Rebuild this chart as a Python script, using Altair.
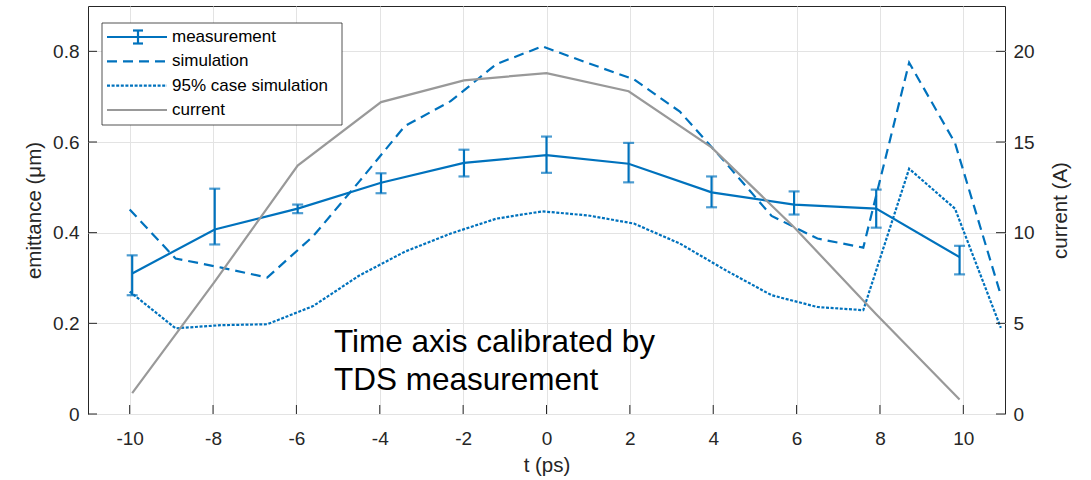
import altair as alt
import pandas as pd

# ---------------- data ----------------
meas_t = [-9.94, -7.96, -5.97, -3.97, -1.98, 0.0, 1.97, 3.96, 5.94, 7.91, 9.91]
meas_y = [0.310, 0.407, 0.453, 0.510, 0.554, 0.571, 0.552, 0.489, 0.462, 0.453, 0.346]
meas_hi = [0.350, 0.497, 0.462, 0.531, 0.583, 0.612, 0.598, 0.524, 0.491, 0.495, 0.371]
meas_lo = [0.262, 0.374, 0.443, 0.487, 0.524, 0.532, 0.511, 0.456, 0.440, 0.411, 0.308]

current_A = [1.15, 7.3, 13.7, 17.2, 18.4, 18.8, 17.8, 14.7, 10.3, 5.5, 0.8]

sim_t = [-10.0, -8.9, -7.8, -6.7, -5.6, -4.5, -3.4, -2.3, -1.2, -0.1,
         1.0, 2.1, 3.2, 4.3, 5.4, 6.5, 7.6, 8.7, 9.8, 10.9]
sim_y = [0.451, 0.343, 0.323, 0.301, 0.392, 0.512, 0.635, 0.690, 0.772, 0.811,
         0.774, 0.738, 0.667, 0.554, 0.437, 0.387, 0.367, 0.775, 0.598, 0.262]
sim95_y = [0.270, 0.189, 0.196, 0.198, 0.238, 0.305, 0.358, 0.398, 0.431, 0.447,
           0.438, 0.420, 0.376, 0.317, 0.262, 0.236, 0.229, 0.541, 0.453, 0.190]

x_ticks = [-10, -8, -6, -4, -2, 0, 2, 4, 6, 8, 10]
y_ticks = [0, 0.2, 0.4, 0.6, 0.8]
c_ticks = [0, 5, 10, 15, 20]

series_names = ["measurement", "simulation", "95% case simulation", "current"]
note_lines = ["Time axis calibrated by", "TDS measurement"]

# ---------------- styling ----------------
BLUE = "#0072BD"
GRAY = "#999999"
AX = "#262626"
FONT = "Liberation Sans"
W, H = 917, 408

meas = pd.DataFrame({"t": meas_t, "y": meas_y, "hi": meas_hi, "lo": meas_lo})
cur = pd.DataFrame({"t": meas_t, "c": current_A})
sim = pd.DataFrame({"t": sim_t, "s": sim_y, "s95": sim95_y})
xt = pd.DataFrame({"t": x_ticks})
yt = pd.DataFrame({"v": y_ticks})
ct = pd.DataFrame({"v": c_ticks})
one = pd.DataFrame({"k": [0]})
leg = pd.DataFrame({"name": series_names})
note = pd.DataFrame({"txt": [note_lines]})

xscale = alt.Scale(domain=[-11, 11], nice=False, zero=False)
yscale = alt.Scale(domain=[0, 0.9], nice=False)
cscale = alt.Scale(domain=[0, 22.5], nice=False)

X = alt.X("t:Q", scale=xscale,
          axis=alt.Axis(values=x_ticks, title="t (ps)", grid=True, tickSize=0,
                        labelPadding=15, titlePadding=7, domain=False,
                        labelExpr="datum.value + ''"))

Yaxis = alt.Axis(values=y_ticks, title="emittance (μm)", grid=True, tickSize=0,
                 labelPadding=9, titlePadding=8, domain=False, format="~g")

# --- emittance layers (left axis) ---
base = alt.Chart(meas)
meas_line = base.mark_line(color=BLUE, strokeWidth=2.2).encode(
    x=X, y=alt.Y("y:Q", scale=yscale, axis=Yaxis))
err = base.mark_rule(color=BLUE, strokeWidth=2.2).encode(
    x="t:Q", y="lo:Q", y2="hi:Q")
cap_hi = base.mark_tick(color=BLUE, orient="horizontal", size=11, thickness=2.2).encode(
    x="t:Q", y="hi:Q")
cap_lo = base.mark_tick(color=BLUE, orient="horizontal", size=11, thickness=2.2).encode(
    x="t:Q", y="lo:Q")
sim_line = alt.Chart(sim).mark_line(color=BLUE, strokeWidth=2.2, strokeDash=[10, 6]).encode(
    x="t:Q", y="s:Q")
sim95_line = alt.Chart(sim).mark_line(color=BLUE, strokeWidth=2.2, strokeDash=[3, 1.6]).encode(
    x="t:Q", y="s95:Q")
left_ticks = alt.Chart(yt).mark_rule(color=AX, strokeWidth=1).encode(
    y="v:Q", x=alt.value(0), x2=alt.value(9))
bottom_ticks = alt.Chart(xt).mark_rule(color=AX, strokeWidth=1).encode(
    x="t:Q", y=alt.value(H), y2=alt.value(H - 9))

emit = alt.layer(meas_line, sim_line, sim95_line, err, cap_hi, cap_lo,
                 left_ticks, bottom_ticks)

# --- current layers (right axis) ---
cur_line = alt.Chart(cur).mark_line(color=GRAY, strokeWidth=2.2).encode(
    x="t:Q",
    y=alt.Y("c:Q", scale=cscale,
            axis=alt.Axis(values=c_ticks, orient="right", title="current (A)",
                          grid=False, tickSize=0, labelPadding=8, titlePadding=16,
                          titleAngle=270, titleBaseline="top",
                          domain=False, format="~g")))
right_ticks = alt.Chart(ct).mark_rule(color=AX, strokeWidth=1).encode(
    y="v:Q", x=alt.value(W - 9), x2=alt.value(W))
curr = alt.layer(cur_line, right_ticks)

# --- annotation ---
note_txt = alt.Chart(note).mark_text(align="left", baseline="alphabetic", fontSize=31.5,
                                     lineHeight=38.5, font=FONT, color="#000000").encode(
    text="txt", x=alt.value(246), y=alt.value(345.5))

# --- legend ---
leg_y = alt.Y("name:N", scale=alt.Scale(type="point", domain=series_names,
                                        range=[31, 104], padding=0), axis=None)
leg_box = alt.Chart(one).mark_rect(fill="white", stroke=AX, strokeWidth=0.8).encode(
    x=alt.value(14), x2=alt.value(254), y=alt.value(17), y2=alt.value(119))
leg_lines = alt.Chart(leg).mark_rule(strokeWidth=2.2).encode(
    x=alt.value(19), x2=alt.value(79), y=leg_y,
    color=alt.Color("name:N", scale=alt.Scale(domain=series_names,
                                               range=[BLUE, BLUE, BLUE, GRAY]), legend=None),
    strokeDash=alt.StrokeDash("name:N", scale=alt.Scale(domain=series_names,
                                                         range=[[1, 0], [10, 6], [3, 1.6], [1, 0]]),
                              legend=None))
leg_text = alt.Chart(leg).mark_text(align="left", baseline="middle", fontSize=17,
                                    font=FONT, color="#000000").encode(
    x=alt.value(84), y=leg_y, text="name:N")
leg_bar = alt.Chart(one).mark_rule(color=BLUE, strokeWidth=2.2).encode(
    x=alt.value(50), y=alt.value(24.5), y2=alt.value(37.5))
leg_cap1 = alt.Chart(one).mark_rule(color=BLUE, strokeWidth=2.2).encode(
    x=alt.value(45), x2=alt.value(55), y=alt.value(24.5))
leg_cap2 = alt.Chart(one).mark_rule(color=BLUE, strokeWidth=2.2).encode(
    x=alt.value(45), x2=alt.value(55), y=alt.value(37.5))
legend = alt.layer(leg_box, leg_lines, leg_text, leg_bar, leg_cap1, leg_cap2)

chart = alt.layer(emit, curr, note_txt, legend).resolve_scale(
    y="independent", color="independent", strokeDash="independent"
).properties(
    width=W, height=H,
    autosize=alt.AutoSizeParams(type="none"),
    padding={"left": 88, "top": 6, "right": 86, "bottom": 66},
    background="white",
).configure_view(
    stroke=AX, strokeWidth=1
).configure_axis(
    labelFont=FONT, titleFont=FONT, labelFontSize=19, titleFontSize=20.5,
    labelColor=AX, titleColor=AX, titleFontWeight="normal",
    gridColor="#e3e3e3", gridWidth=1,
)

chart.save("out.html", embed_options={"renderer": "svg", "actions": False})
